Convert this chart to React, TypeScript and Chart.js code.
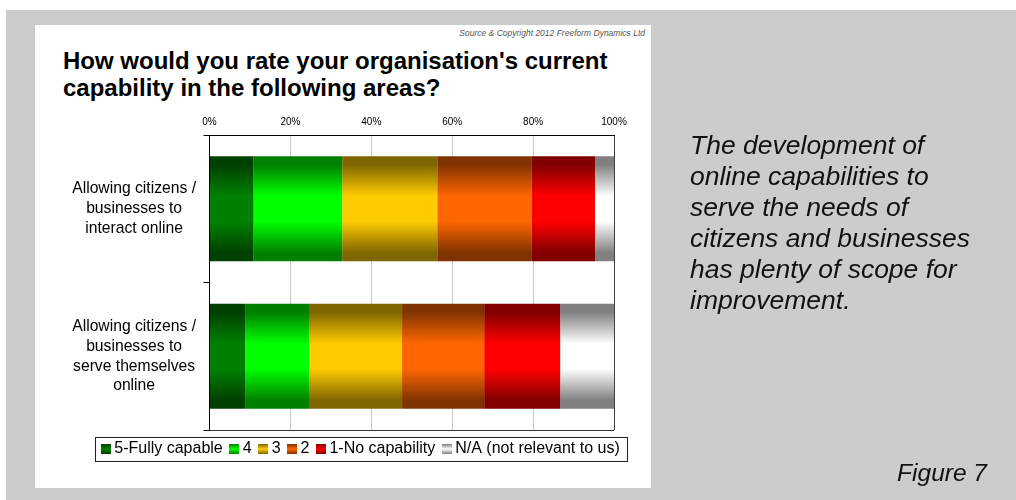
import React, { useEffect, useRef } from 'react';
import { Chart, registerables } from 'chart.js';

Chart.register(...registerables);

// ---------- data ----------
const categoryLabels: string[][] = [
  ['Allowing citizens /', 'businesses to', 'interact online'],
  ['Allowing citizens /', 'businesses to', 'serve themselves', 'online'],
];
const seriesNames = ['5-Fully capable', '4', '3', '2', '1-No capability', 'N/A (not relevant to us)'];
const fullyCapable = [10.9, 8.8];
const rating4 = [21.9, 15.8];
const rating3 = [23.5, 23.0];
const rating2 = [23.4, 20.3];
const noCapability = [15.6, 18.8];
const notRelevant = [4.7, 13.3];
const xTickValues = [0, 20, 40, 60, 80, 100];

const seriesValues = [fullyCapable, rating4, rating3, rating2, noCapability, notRelevant];
const darkColors = ['#004000', '#008000', '#806600', '#803300', '#800000', '#808080'];
const brightColors = ['#008000', '#00ff00', '#ffcc00', '#ff6600', '#ff0000', '#ffffff'];

const FONT = '"Liberation Sans", Arial, Helvetica, sans-serif';
const BAR_PCT = 0.713;

function barGradient(ctx: any, dark: string, bright: string) {
  const chart = ctx.chart;
  if (!chart.chartArea || ctx.type !== 'data') return bright;
  const ys = chart.scales.y;
  const cat = (ys.bottom - ys.top) / categoryLabels.length;
  const thick = cat * BAR_PCT;
  const c = ys.getPixelForValue(ctx.dataIndex);
  const g = chart.ctx.createLinearGradient(0, c - thick / 2, 0, c + thick / 2);
  g.addColorStop(0, dark);
  g.addColorStop(0.08, dark);
  g.addColorStop(0.38, bright);
  g.addColorStop(0.62, bright);
  g.addColorStop(0.92, dark);
  g.addColorStop(1, dark);
  return g;
}

function makeSwatch(dark: string, bright: string) {
  const c = document.createElement('canvas');
  c.width = 10;
  c.height = 10;
  const g = c.getContext('2d')!;
  const grad = g.createLinearGradient(0, 0, 0, 10);
  grad.addColorStop(0, dark);
  grad.addColorStop(0.5, bright);
  grad.addColorStop(1, dark);
  g.fillStyle = grad;
  g.fillRect(0, 0, 10, 10);
  return c;
}

const legendBorder = {
  id: 'legendBorder',
  afterDraw(chart: any) {
    const hb = chart.legend && chart.legend.legendHitBoxes;
    if (!hb || !hb.length) return;
    const left = Math.min(...hb.map((h: any) => h.left)) - 4.5 - 6;
    const right = Math.max(...hb.map((h: any) => h.left + h.width)) + 7;
    const cy = hb[0].top + hb[0].height / 2;
    const ctx = chart.ctx;
    ctx.save();
    ctx.strokeStyle = '#222';
    ctx.lineWidth = 1;
    ctx.strokeRect(Math.round(left) + 0.5, Math.round(cy - 12.5) + 0.5, Math.round(right - left), 24);
    ctx.restore();
  },
};

const plotBottom = {
  id: 'plotBottom',
  afterDatasetsDraw(chart: any) {
    const a = chart.chartArea;
    const ctx = chart.ctx;
    ctx.save();
    ctx.strokeStyle = '#333';
    ctx.lineWidth = 1;
    ctx.beginPath();
    const y = Math.round(a.bottom) + 0.5;
    ctx.moveTo(a.left, y);
    ctx.lineTo(a.right, y);
    ctx.stroke();
    ctx.restore();
  },
};

function ChartCanvas() {
  const ref = useRef<HTMLCanvasElement>(null);
  useEffect(() => {
    if (!ref.current) return;
    const swatches = seriesNames.map((_, i) => makeSwatch(darkColors[i], brightColors[i]));
    const chart = new Chart(ref.current, {
      type: 'bar',
      data: {
        labels: categoryLabels as any,
        datasets: seriesNames.map((name, i) => ({
          label: name,
          data: seriesValues[i],
          backgroundColor: (ctx: any) => barGradient(ctx, darkColors[i], brightColors[i]),
          borderWidth: 0,
          barPercentage: BAR_PCT,
          categoryPercentage: 1,
        })),
      },
      options: {
        indexAxis: 'y',
        responsive: false,
        animation: false,
        events: [],
        layout: { padding: { left: 63, right: 354, top: 109, bottom: 33 } },
        scales: {
          x: {
            type: 'linear',
            position: 'top',
            stacked: true,
            min: 0,
            max: 100,
            afterBuildTicks: (s: any) => {
              s.ticks = xTickValues.map((v) => ({ value: v }));
            },
            ticks: {
              padding: 7,
              color: '#000',
              font: { family: FONT, size: 10 },
              callback: (v: any) => v + '%',
            },
            grid: {
              drawTicks: false,
              color: (c: any) =>
                c.tick && c.tick.value === 100 ? '#404040' : c.tick && c.tick.value === 0 ? 'rgba(0,0,0,0)' : '#c8c8c8',
            },
            border: { display: true, color: '#000', width: 1 },
          },
          y: {
            type: 'category',
            stacked: true,
            afterFit: (s: any) => {
              s.width = 146.5;
            },
            ticks: {
              padding: 7.5,
              crossAlign: 'center',
              color: '#000',
              font: { family: FONT, size: 15.7, lineHeight: 1.27 },
            },
            grid: {
              drawOnChartArea: false,
              drawTicks: true,
              tickLength: 6,
              color: '#000',
              offset: true,
            },
            border: { display: true, color: '#000', width: 1 },
          },
          pad: {
            type: 'linear',
            position: 'right',
            display: true,
            ticks: { display: false },
            grid: { display: false },
            border: { display: false },
            afterFit: (s: any) => {
              s.width = 48;
            },
          },
        },
        plugins: {
          title: { display: false },
          tooltip: { enabled: false },
          legend: {
            display: true,
            position: 'bottom',
            labels: {
              usePointStyle: true,
              pointStyleWidth: 1,
              padding: 11,
              color: '#000',
              font: { family: FONT, size: 16 },
              generateLabels: () =>
                seriesNames.map((name, i) => ({
                  text: name,
                  pointStyle: swatches[i] as any,
                  fillStyle: brightColors[i],
                  strokeStyle: darkColors[i],
                  lineWidth: 0,
                  hidden: false,
                  datasetIndex: i,
                  fontColor: '#000',
                })),
            },
          },
        },
      } as any,
      plugins: [legendBorder, plotBottom],
    });
    return () => chart.destroy();
  }, []);
  return (
    <canvas
      ref={ref}
      width={1016}
      height={500}
      style={{ position: 'absolute', left: 0, top: 0, width: 1016, height: 500 }}
    />
  );
}

export default function App() {
  return (
    <div
      style={{
        position: 'fixed',
        left: 0,
        top: 0,
        width: 1016,
        height: 500,
        background: '#ffffff',
        overflow: 'hidden',
        fontFamily: FONT,
      }}
    >
      <div style={{ position: 'absolute', left: 6, top: 10, width: 1010, height: 490, background: '#cccccc' }} />
      <div style={{ position: 'absolute', left: 35, top: 25, width: 616, height: 463, background: '#ffffff' }} />
      <div
        style={{
          position: 'absolute',
          left: 0,
          top: 28,
          width: 645,
          textAlign: 'right',
          fontSize: 8.5,
          lineHeight: '10px',
          fontStyle: 'italic',
          color: '#555',
          whiteSpace: 'nowrap',
        }}
      >
        Source &amp; Copyright 2012 Freeform Dynamics Ltd
      </div>
      <div
        style={{
          position: 'absolute',
          left: 63,
          top: 46.5,
          fontSize: 24,
          lineHeight: '27px',
          fontWeight: 'bold',
          color: '#000',
          whiteSpace: 'nowrap',
        }}
      >
        How would you rate your organisation's current
        <br />
        capability in the following areas?
      </div>
      <ChartCanvas />
      <div
        style={{
          position: 'absolute',
          left: 690,
          top: 129.5,
          fontSize: 26.5,
          lineHeight: '31px',
          fontStyle: 'italic',
          color: '#111',
          whiteSpace: 'nowrap',
        }}
      >
        The development of
        <br />
        online capabilities to
        <br />
        serve the needs of
        <br />
        citizens and businesses
        <br />
        has plenty of scope for
        <br />
        improvement.
      </div>
      <div
        style={{
          position: 'absolute',
          left: 0,
          top: 459,
          width: 987,
          textAlign: 'right',
          fontSize: 24.5,
          lineHeight: '28px',
          fontStyle: 'italic',
          color: '#111',
          whiteSpace: 'nowrap',
        }}
      >
        Figure 7
      </div>
    </div>
  );
}
